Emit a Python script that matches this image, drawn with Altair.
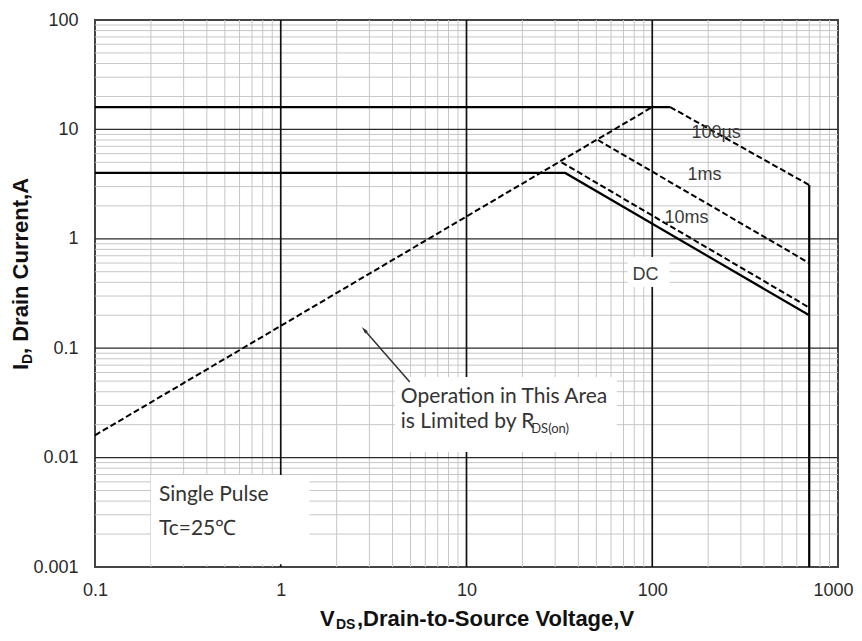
import altair as alt
import pandas as pd

# ---------------- axis ranges / ticks ----------------
X_DOMAIN = [0.1, 1000]
Y_DOMAIN = [0.001, 100]
X_TICKS = [0.1, 1, 10, 100, 1000]
Y_TICKS = [0.001, 0.01, 0.1, 1, 10, 100]
MANTISSAS = [2, 3, 4, 5, 6, 7, 8, 9]
X_DECADES = [0.1, 1, 10, 100]
Y_DECADES = [0.001, 0.01, 0.1, 1, 10]
X_MAJOR = [1, 10, 100]
Y_MAJOR = [0.01, 0.1, 1, 10]

# ---------------- SOA boundary curves (V, A) ----------------
RDS_V = [0.1, 100]
RDS_I = [0.016, 16]
LIM16_V = [0.1, 125]
LIM16_I = [16, 16]
US100_V = [125, 700]
US100_I = [16, 3.1]
MS1_V = [51, 700]
MS1_I = [8.0, 0.6]
MS10_V = [32.5, 700]
MS10_I = [5.0, 0.235]
DC_V = [0.1, 34, 700]
DC_I = [4, 4, 0.2]
VMAX_V = [700, 700]
VMAX_I = [3.1, 0.001]

SOLID = {"lim16": (LIM16_V, LIM16_I), "dc": (DC_V, DC_I), "vmax": (VMAX_V, VMAX_I)}
DASHED = {"rds": (RDS_V, RDS_I), "us100": (US100_V, US100_I),
          "ms1": (MS1_V, MS1_I), "ms10": (MS10_V, MS10_I)}


def frame(curves):
    rows = []
    for name, (vs, cs) in curves.items():
        for k, (v, c) in enumerate(zip(vs, cs)):
            rows.append({"series": name, "k": k, "V": v, "I": c})
    return pd.DataFrame(rows)


# ---------------- annotations (data coordinates) ----------------
BOX_LABELS = ["operation", "pulse", "dc"]
BOX_V1 = [4.11, 0.2, 73.6]
BOX_V2 = [64.3, 1.43, 124]
BOX_I1 = [0.0546, 0.00693, 0.682]
BOX_I2 = [0.01125, 0.00106, 0.3626]

CALIBRI_TEXT = ["Operation in This Area", "is Limited by R", "Single Pulse", "Tc=25\u2103"]
CALIBRI_V = [4.43, 4.43, 0.2208, 0.2208]
CALIBRI_I = [0.0316, 0.01865, 0.00404, 0.00196]

SUB_TEXT = ["DS(on)"]
SUB_V = [22.3]
SUB_I = [0.0168]

CURVE_TEXT = ["100\u00b5s", "1ms", "10ms", "DC"]
CURVE_V = [162.5, 155, 116.4, 78.3]
CURVE_I = [8.34, 3.45, 1.39, 0.42]

ARROW_V = [4.95, 2.82]
ARROW_I = [0.0491, 0.1467]

XS = alt.Scale(type="log", domain=X_DOMAIN, nice=False)
YS = alt.Scale(type="log", domain=Y_DOMAIN, nice=False)
XA = alt.Axis(values=X_TICKS, format="~g", grid=False, ticks=False, domain=False,
              labelFont="Liberation Sans", labelFontSize=18, labelColor="#2a2a2a",
              labelPadding=14, labelFlush=False, labelOverlap=False, title=None,
              labelOffset=alt.condition("datum.value >= 1000", alt.value(-5), alt.value(0)))
YA = alt.Axis(values=Y_TICKS, format="~g", grid=False, ticks=False, domain=False,
              labelFont="Liberation Sans", labelFontSize=18, labelColor="#2a2a2a",
              labelPadding=17, labelFlush=False, labelOverlap=False, title=None)


def X(field):
    return alt.X(field, type="quantitative", scale=XS, axis=XA)


def Y(field):
    return alt.Y(field, type="quantitative", scale=YS, axis=YA)


x_minor = [m * d for d in X_DECADES for m in MANTISSAS]
y_minor = [m * d for d in Y_DECADES for m in MANTISSAS]

g1 = alt.Chart(pd.DataFrame({"V": x_minor})).mark_rule(color="#c6c6c6", strokeWidth=1).encode(x=X("V"))
g2 = alt.Chart(pd.DataFrame({"I": y_minor})).mark_rule(color="#c6c6c6", strokeWidth=1).encode(y=Y("I"))
g3 = alt.Chart(pd.DataFrame({"I": Y_MAJOR})).mark_rule(color="#2a2a2a", strokeWidth=1.3).encode(y=Y("I"))
g4 = alt.Chart(pd.DataFrame({"V": X_MAJOR})).mark_rule(color="#111", strokeWidth=1.7).encode(x=X("V"))

boxes = alt.Chart(pd.DataFrame({"b": BOX_LABELS, "V1": BOX_V1, "V2": BOX_V2,
                                "I1": BOX_I1, "I2": BOX_I2})).mark_rect(
    fill="white").encode(x=X("V1"), x2="V2", y=Y("I1"), y2="I2")

solid = alt.Chart(frame(SOLID)).mark_line(color="black", strokeWidth=2.2).encode(
    x=X("V"), y=Y("I"), detail="series:N", order="k:Q")
dashed = alt.Chart(frame(DASHED)).mark_line(color="black", strokeWidth=2, strokeDash=[6, 3]).encode(
    x=X("V"), y=Y("I"), detail="series:N", order="k:Q")

arrow_df = pd.DataFrame({"V": ARROW_V, "I": ARROW_I, "k": [0, 1]})
arrow_line = alt.Chart(arrow_df).mark_line(color="#333", strokeWidth=1.5).encode(
    x=X("V"), y=Y("I"), order="k:Q")
arrow_head = alt.Chart(arrow_df.iloc[[1]]).mark_point(
    shape="M0,-1L0.45,0.8L-0.45,0.8Z", filled=True, color="#333", opacity=1,
    size=64, angle=319).encode(x=X("V"), y=Y("I"))

calibri = alt.Chart(pd.DataFrame({"t": CALIBRI_TEXT, "V": CALIBRI_V, "I": CALIBRI_I})).mark_text(
    font="Lato", fontSize=21, color="#333", align="left", baseline="alphabetic").encode(
    x=X("V"), y=Y("I"), text="t:N")
sub = alt.Chart(pd.DataFrame({"t": SUB_TEXT, "V": SUB_V, "I": SUB_I})).mark_text(
    font="Lato", fontSize=13, color="#333", align="left", baseline="alphabetic").encode(
    x=X("V"), y=Y("I"), text="t:N")
curve_lbl = alt.Chart(pd.DataFrame({"t": CURVE_TEXT, "V": CURVE_V, "I": CURVE_I})).mark_text(
    font="Liberation Sans", fontSize=18, color="#3a3a3a", align="left", baseline="alphabetic").encode(
    x=X("V"), y=Y("I"), text="t:N")


def title_part(text, x, y, size, angle=0):
    return alt.Chart(pd.DataFrame({"t": [text]})).mark_text(
        font="Liberation Sans", fontWeight="bold", fontSize=size, color="#111",
        align="left", baseline="alphabetic", angle=angle).encode(
        x=alt.value(x), y=alt.value(y), text="t:N")


titles = [
    title_part("V", 225, 606, 22),
    title_part("DS", 241, 609, 14),
    title_part(",Drain-to-Source Voltage,V", 262, 606, 22),
    title_part("I", -67, 350, 22, 270),
    title_part("D", -63, 344, 14, 270),
    title_part(", Drain Current,A", -67, 334, 22, 270),
]

chart = alt.layer(g1, g2, g3, g4, boxes, solid, dashed, arrow_line, arrow_head,
                  calibri, sub, curve_lbl, *titles).properties(
    width=743, height=547,
    autosize=alt.AutoSizeParams(type="none"),
    padding={"left": 87, "top": 12, "right": 16, "bottom": 66},
    background="white",
).configure_view(stroke="#444", strokeWidth=2)

chart.save("out.html", embed_options={"renderer": "svg", "actions": False})
